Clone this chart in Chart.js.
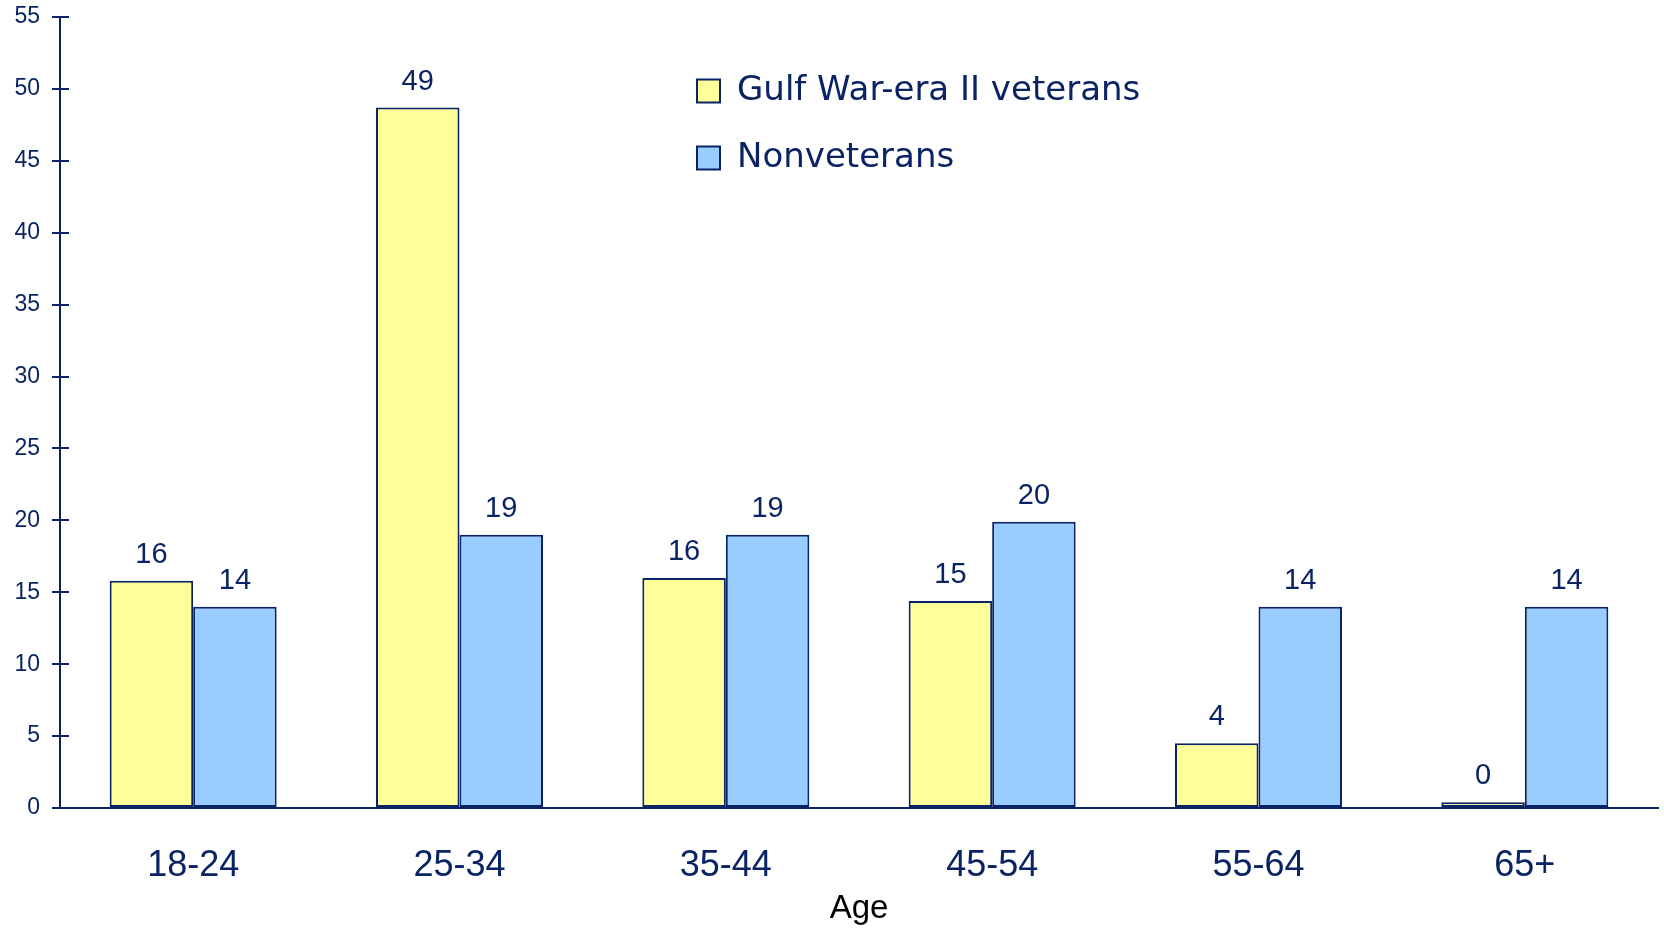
<!DOCTYPE html>
<html>
<head>
<meta charset="utf-8">
<script src="https://cdn.jsdelivr.net/npm/chart.js@4.4.1/dist/chart.umd.min.js"></script>
<style>
html,body{margin:0;padding:0;background:#fff;}
#wrap{width:1664px;height:929px;position:relative;}
</style>
</head>
<body>
<div id="wrap"><canvas id="c" width="1664" height="929"></canvas></div>
<script>
const categories = ['18-24', '25-34', '35-44', '45-54', '55-64', '65+'];
const veterans = [15.8, 48.7, 16.0, 14.4, 4.5, 0.4];
const nonveterans = [14.0, 19.0, 19.0, 19.9, 14.0, 14.0];
const veteranLabels = ['16', '49', '16', '15', '4', '0'];
const nonveteranLabels = ['14', '19', '19', '20', '14', '14'];
const yTicks = [0, 5, 10, 15, 20, 25, 30, 35, 40, 45, 50, 55];

const NAVY = '#0a2364';
const NUMFONT = '"Liberation Sans", Arial, sans-serif';

const innerTicks = {
  id: 'innerTicks',
  afterDraw(chart) {
    const s = chart.scales.y;
    const ctx = chart.ctx;
    ctx.save();
    ctx.strokeStyle = NAVY;
    ctx.lineWidth = 2;
    const x0 = chart.chartArea.left;
    s.ticks.forEach((t, i) => {
      const y = Math.round(s.getPixelForTick(i)) ;
      ctx.beginPath();
      ctx.moveTo(x0, y);
      ctx.lineTo(x0 + 9, y);
      ctx.stroke();
    });
    ctx.restore();
  }
};

const valueLabels = {
  id: 'valueLabels',
  afterDatasetsDraw(chart) {
    const ctx = chart.ctx;
    const sets = [veteranLabels, nonveteranLabels];
    ctx.save();
    ctx.fillStyle = NAVY;
    ctx.font = '29px ' + NUMFONT;
    ctx.textAlign = 'center';
    ctx.textBaseline = 'alphabetic';
    chart.data.datasets.forEach((ds, di) => {
      const meta = chart.getDatasetMeta(di);
      meta.data.forEach((bar, i) => {
        ctx.fillText(sets[di][i], bar.x, bar.y - 18);
      });
    });
    ctx.restore();
  }
};

const legendPlacer = {
  id: 'legendPlacer',
  afterLayout(chart) {
    const lg = chart.legend;
    if (!lg) return;
    const pad = lg.options.labels.padding;
    lg.left = 697 - pad;
    lg.top = 74 - pad;
    lg.right = lg.left + lg.width;
    lg.bottom = lg.top + lg.height;
  }
};

new Chart(document.getElementById('c'), {
  type: 'bar',
  data: {
    labels: categories,
    datasets: [
      {
        label: 'Gulf War-era II veterans',
        data: veterans,
        backgroundColor: '#ffff99',
        borderColor: NAVY,
        borderWidth: 2,
        borderSkipped: false
      },
      {
        label: 'Nonveterans',
        data: nonveterans,
        backgroundColor: '#99ccff',
        borderColor: NAVY,
        borderWidth: 2,
        borderSkipped: false
      }
    ]
  },
  options: {
    responsive: false,
    animation: false,
    devicePixelRatio: 1,
    layout: { padding: { left: 0, right: 6, top: 17, bottom: 0 } },
    datasets: { bar: { categoryPercentage: 0.627, barPercentage: 1.0 } },
    plugins: {
      tooltip: { enabled: false },
      legend: {
        position: 'chartArea',
        align: 'start',
        labels: {
          boxWidth: 23,
          boxHeight: 23,
          padding: 33,
          color: NAVY,
          font: { family: '"DejaVu Sans", Verdana, sans-serif', size: 34 }
        }
      }
    },
    scales: {
      x: {
        grid: { display: false, drawTicks: false },
        border: { display: true, color: NAVY, width: 2 },
        ticks: {
          color: NAVY,
          padding: 36,
          font: { family: NUMFONT, size: 36 }
        },
        title: {
          display: true,
          text: 'Age',
          color: '#000',
          font: { family: NUMFONT, size: 33 },
          padding: { top: 0, bottom: 0 }
        },
        afterFit(s) { s.height = 121; }
      },
      y: {
        min: 0,
        max: 55,
        afterBuildTicks(s) { s.ticks = yTicks.map(v => ({ value: v })); },
        grid: { drawOnChartArea: false, drawTicks: true, tickLength: 8, color: NAVY, lineWidth: 2 },
        border: { display: true, color: NAVY, width: 2 },
        ticks: {
          color: NAVY,
          padding: 12,
          font: { family: NUMFONT, size: 23 }
        },
        afterFit(s) { s.width = 60; s.paddingTop = 0; s.paddingBottom = 0; }
      }
    }
  },
  plugins: [innerTicks, valueLabels, legendPlacer]
});
</script>
</body>
</html>
